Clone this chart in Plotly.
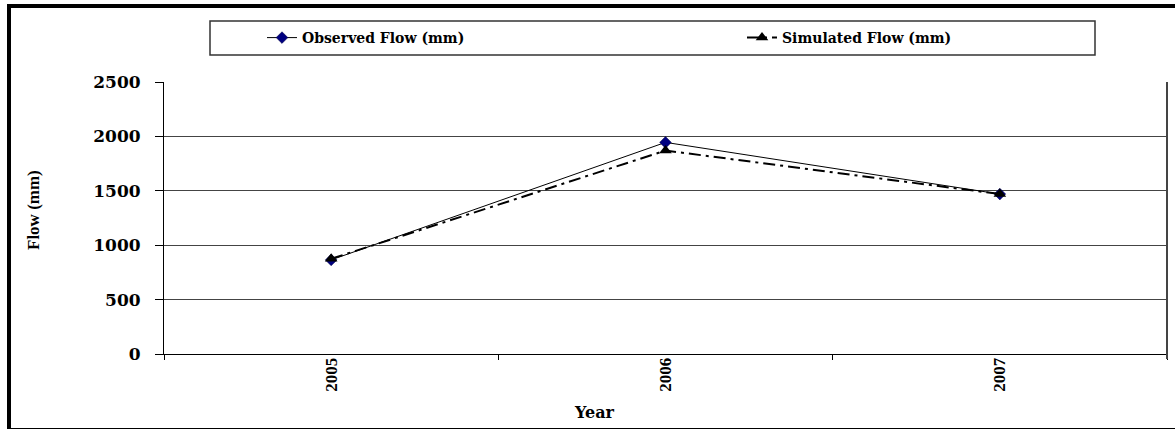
import plotly.graph_objects as go

years = ["2005", "2006", "2007"]
observed = [865, 1945, 1470]
simulated = [875, 1870, 1470]
y_ticks = [0, 500, 1000, 1500, 2000, 2500]

W, H = 1175, 430
L, R, T, B = 164, 8, 82, 76
PW = W - L - R
PH = H - T - B

def px(x):
    return (x - L) / PW

def py(y):
    return (H - B - y) / PH

wide_font = "DejaVu Serif"
serif = "Times New Roman"

fig = go.Figure()
fig.add_trace(go.Scatter(
    x=years, y=observed, name="Observed Flow (mm)", mode="lines+markers",
    line=dict(color="black", width=1),
    marker=dict(symbol="diamond", size=9, color="#000080", line=dict(color="#000040", width=0.5)),
))
fig.add_trace(go.Scatter(
    x=years, y=simulated, name="Simulated Flow (mm)", mode="lines+markers",
    line=dict(color="black", width=2, dash="12px,5px,3px,5px"),
    marker=dict(symbol="triangle-up", size=11, color="black"),
))

shapes = [
    # outer frame
    dict(type="line", xref="paper", yref="paper", x0=px(7), x1=px(1175), y0=py(6), y1=py(6),
         line=dict(color="black", width=4)),
    dict(type="line", xref="paper", yref="paper", x0=px(9), x1=px(9), y0=py(4), y1=py(429),
         line=dict(color="black", width=4)),
    dict(type="line", xref="paper", yref="paper", x0=px(7), x1=px(1175), y0=py(428.5), y1=py(428.5),
         line=dict(color="black", width=1)),
    # legend box
    dict(type="rect", xref="paper", yref="paper", x0=px(210), x1=px(1095), y0=py(55), y1=py(21),
         line=dict(color="#333", width=1.5), fillcolor="rgba(0,0,0,0)"),
    # right plot border
    dict(type="line", xref="paper", yref="paper", x0=px(1167), x1=px(1167), y0=py(82), y1=py(359),
         line=dict(color="#444", width=2)),
]

fig.update_layout(
    width=W, height=H,
    margin=dict(l=L, r=R, t=T, b=B, pad=0),
    paper_bgcolor="white", plot_bgcolor="white",
    showlegend=True,
    legend=dict(
        orientation="h", xref="container", yref="container",
        x=262 / W, xanchor="left", y=1 - 38 / H, yanchor="middle",
        font=dict(family=wide_font, size=14, color="black", weight="bold"),
        entrywidth=435, entrywidthmode="pixels",
        bgcolor="rgba(0,0,0,0)", borderwidth=0,
    ),
    shapes=shapes,
    annotations=[
        dict(text="Flow (mm)", xref="paper", yref="paper", x=px(33), y=py(210),
             showarrow=False, textangle=-90, xanchor="center", yanchor="middle",
             font=dict(family=serif, size=17, color="black", weight="bold")),
        dict(text="Year", xref="paper", yref="paper", x=px(594), y=py(412),
             showarrow=False, xanchor="center", yanchor="middle",
             font=dict(family=wide_font, size=16, color="black", weight="bold")),
    ],
)

fig.update_xaxes(
    type="category", tickson="boundaries", ticks="outside", ticklen=5, tickcolor="black",
    showline=True, linecolor="black", linewidth=1, showgrid=False,
    tickangle=-90, tickfont=dict(family=serif, size=17, color="black", weight="bold"),
    range=[-0.5, 2.5], zeroline=False, ticklabelstandoff=-4,
)
fig.update_yaxes(
    range=[0, 2500], tickvals=y_ticks, ticks="outside", ticklen=8, tickcolor="black",
    showline=True, linecolor="black", linewidth=1,
    showgrid=True, gridcolor="#444", gridwidth=1, zeroline=False,
    tickfont=dict(family=wide_font, size=17, color="black", weight="bold"),
    ticklabelstandoff=11,
)

fig.write_html("out.html", config={"displayModeBar": False},
               post_script="document.body.style.margin='0';document.body.style.overflow='hidden';")
